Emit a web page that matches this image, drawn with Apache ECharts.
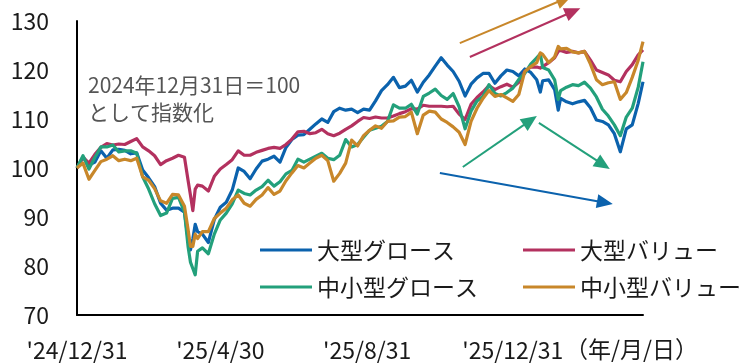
<!DOCTYPE html>
<html><head><meta charset="utf-8">
<script src="https://cdn.jsdelivr.net/npm/echarts@6/dist/echarts.min.js"></script>
<style>html,body{margin:0;padding:0;background:#fff}#c{width:739px;height:363px}</style>
</head><body><div id="c"></div>
<script>
// days elapsed since 2024-12-31
const days = [0,5,10,15,20,25,30,35,40,45,50,55,60,65,70,75,80,85,90,
  93,95,97,99,101,
  105,110,115,120,125,130,135,140,145,150,
  155,160,165,170,175,180,185,190,195,200,
  205,210,215,220,225,230,235,240,245,250,
  255,260,265,270,275,280,285,290,295,300,
  305,310,315,320,325,330,335,340,345,350,
  355,360,365,370,375,380,385,388,390,395,400,403,
  405,410,415,420,425,430,435,440,445,450,
  455,460,465,470,474];

const largeGrowth = [100,102.2,100.6,101.2,103.5,102,103.7,103.8,103.6,102.9,
  103.1,99.6,98,96.2,92.8,91.4,91.8,91.8,91,
  85.5,83.3,85.5,88.5,87,
  86.5,84.8,89.5,92,93,95.5,100,99.3,97.8,99.8,
  101.4,101.8,102.4,101.2,104.2,105.8,106.7,106.8,107.9,109,
  110,109.3,111.5,112.2,111.8,112,111.3,112,111.8,113.7,
  115.8,117,118.5,116.4,116.7,117.9,115.5,117.5,119,120.8,
  122.5,121,119.7,117.7,114.7,117.1,118.4,119.3,119.3,117.3,
  118.8,120,119.7,118.8,120.2,119.5,118,115.5,117.8,118,116,111.8,
  114.2,113.5,113.1,113.5,113.8,112.3,109.8,109.5,108.8,107,
  103.3,108,108.8,113.2,117.6];

const largeValue = [100,102.2,101,102.8,104.2,105,104.7,104.9,104.8,105.4,
  106,104.3,103.5,102.5,100.7,101.5,102,102.6,102.2,
  97.5,94.5,91.3,95.7,96.5,
  96.3,95.3,98.3,99.8,100.7,101.7,103.5,102.6,102.6,103.2,
  103.6,104,104.2,104,104.8,105.9,107.4,107.5,107,107.2,
  107.9,107,106.6,107.1,107.9,108.6,109.5,110.3,110.1,110.4,
  110.2,110.2,110.6,111.1,111.5,112.1,112,112.8,112.6,112.6,
  112.6,112.5,112.6,111,109.9,113,114.4,115.5,116.8,116,
  116.6,117.1,116.5,117.5,119.7,120.6,120.6,120.4,120.7,121.5,122.5,123.8,
  124,123.6,123.8,123.5,123.8,122,120,119.5,119,117.9,
  117.6,119.7,121.1,123.1,124.1];

const smallGrowth = [100,102.5,99.8,102.2,104.3,104.3,104.7,103.3,103.5,103.5,
  103,98.2,95.7,92.7,90.3,90.8,93.8,94,91,
  84,80.8,79.5,78.2,83,
  83.7,82.5,86.5,89.4,90.8,92.7,95.5,94.8,94.5,95.5,
  96.2,97.5,96.3,97.2,98.8,99.5,101.8,101.2,101.8,102.4,
  103,102,101.7,102.6,105.8,104.3,104.8,106.3,107.7,108.1,
  108.5,109.5,112.9,112.2,112.2,113,111,114.6,115.3,116.1,
  114.8,114,115.2,112.5,108,111.6,113.7,114.6,117,115.2,
  114.7,115.4,116.3,118.1,119.3,121.2,122.5,123.3,120.5,120,118,114,
  115.8,116.5,117,116.8,117.5,116.3,114.5,112,110.6,108.8,
  106.6,110.4,112.2,116.5,121.7];

const smallValue = [100,101,97.7,99.5,101.3,101.8,102.5,101.5,101.8,101.5,
  102,98.2,97.5,95.8,93.3,92.8,94.6,94.5,92.2,
  87.5,84,84,86.5,85.6,
  87,87,89.7,90.8,91.8,93.5,94.5,92.8,92.2,93.6,
  94.5,96,94.6,95.3,97.4,99,100.5,100,101,102,
  102.6,101.5,97.3,98.9,101,105.7,104.5,106.6,107.7,108.6,
  108.1,109.5,109.6,110.4,110.5,111.4,107,110.8,111.6,111.4,
  110,109.3,108.4,107.3,104.8,109.5,112.2,114.2,115.8,114.6,
  115,114.3,113.6,115,119.7,120.7,121.5,123.5,123.2,121.5,122.7,124.8,
  124.3,124.4,123.7,123.5,123.8,121.2,118,117,117.4,117.6,
  114,115.4,118.5,122,125.8];

const seriesNames = ['大型グロース','大型バリュー','中小型グロース','中小型バリュー'];
const seriesValues = [largeGrowth, largeValue, smallGrowth, smallValue];
const seriesColors = ['#0b62ad','#b3315f','#23a07b','#c8872a'];

const tickDays = [0,120,243,365];
const tickLabels = ["'24/12/31","'25/4/30","'25/8/31","'25/12/31"];
const xMaxDay = 474;
const yMin = 70, yMax = 130, yStep = 10;

const noteText = '2024年12月31日＝100\nとして指数化';
const unitText = '（年/月/日）';

// arrow annotations in data coordinates [day, value]
const arrows = [
  {color:'#c8872a', from:[320.6,125.5], to:[414.4,135.1]},
  {color:'#b3315f', from:[329.0,122.65], to:[421.5,132.6]},
  {color:'#23a07b', from:[323.1,100.2], to:[385.1,110.6]},
  {color:'#23a07b', from:[386.8,109.2], to:[446.2,99.8]},
  {color:'#0b62ad', from:[303.9,99.0], to:[448.7,92.65]}
];

const FONT = '"Noto Sans CJK JP", "Noto Sans", sans-serif';
const chart = echarts.init(document.getElementById('c'), null, {renderer:'canvas'});

const series = seriesNames.map((n,i)=>({
  name:n, type:'line', showSymbol:false, symbol:'none',
  data: days.map((d,k)=>[d, seriesValues[i][k]]),
  lineStyle:{width:3.2, color:seriesColors[i], join:'round'},
  itemStyle:{color:seriesColors[i]},
  emphasis:{disabled:true}, z:2+i
}));

const legendCommon = {
  orient:'vertical', top:232, itemWidth:52, itemHeight:3, icon:'rect', itemGap:11,
  textStyle:{fontFamily:FONT, fontSize:23, color:'#1a1a1a', lineHeight:26},
  selectedMode:false
};

chart.setOption({
  animation:false,
  backgroundColor:'#fff',
  grid:{left:77, right:96, top:21, bottom:48, containLabel:false},
  xAxis:{
    type:'value', min:0, max:xMaxDay,
    axisLine:{show:true, onZero:false, lineStyle:{color:'#000', width:2}},
    axisTick:{show:false}, splitLine:{show:false},
    axisLabel:{
      customValues:tickDays, margin:24,
      fontFamily:FONT, fontSize:23, color:'#1a1a1a',
      formatter:(v)=>{ const i = tickDays.indexOf(v); return i>=0 ? tickLabels[i] : ''; }
    }
  },
  yAxis:{
    type:'value', min:yMin, max:yMax, interval:yStep,
    axisLine:{show:true, onZero:false, lineStyle:{color:'#000', width:2}},
    axisTick:{show:false}, splitLine:{show:false},
    axisLabel:{margin:28, fontFamily:FONT, fontSize:23, color:'#1a1a1a'}
  },
  legend:[
    Object.assign({left:255, data:[seriesNames[0], seriesNames[2]]}, legendCommon),
    Object.assign({left:518, data:[seriesNames[1], seriesNames[3]]}, legendCommon)
  ],
  series:series
});

function arrowGraphic(a){
  const p0 = chart.convertToPixel({gridIndex:0}, a.from);
  const p1 = chart.convertToPixel({gridIndex:0}, a.to);
  const dx = p1[0]-p0[0], dy = p1[1]-p0[1], L = Math.hypot(dx,dy);
  const ux = dx/L, uy = dy/L, hl = 16, hw = 7;
  const bx = p1[0]-ux*hl, by = p1[1]-uy*hl;
  return [
    {type:'line', silent:true, z:20,
      shape:{x1:p0[0], y1:p0[1], x2:bx+ux*3, y2:by+uy*3},
      style:{stroke:a.color, lineWidth:2}},
    {type:'polygon', silent:true, z:20,
      shape:{points:[[p1[0],p1[1]],[bx-uy*hw, by+ux*hw],[bx+uy*hw, by-ux*hw]]},
      style:{fill:a.color}}
  ];
}

const graphics = [];
arrows.forEach(a=>graphics.push(...arrowGraphic(a)));
graphics.push({type:'text', left:88, top:72, silent:true, z:20,
  style:{text:noteText, font:'21px '+FONT, fill:'#555555', lineHeight:27}});
graphics.push({type:'text', left:565, top:338, silent:true, z:20,
  style:{text:unitText, font:'23px '+FONT, fill:'#1a1a1a'}});
chart.setOption({graphic:graphics});
</script>
</body></html>
